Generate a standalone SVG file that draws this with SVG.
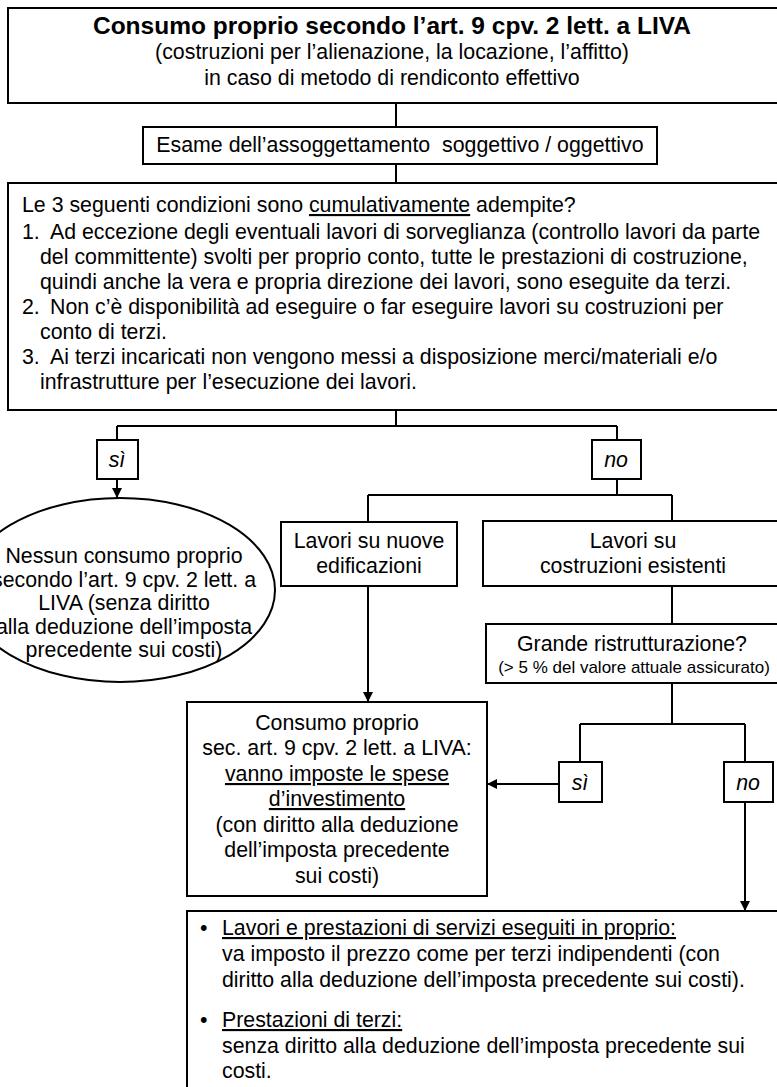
<svg xmlns="http://www.w3.org/2000/svg" width="777" height="1087" viewBox="0 0 777 1087">
<style>
.box{fill:#fff;stroke:#000;stroke-width:2}
.ln{fill:none;stroke:#000;stroke-width:2}
text{font-family:"Liberation Sans",Arial,sans-serif;font-size:21.33px;fill:#000}
.c{text-anchor:middle}
.it{font-style:italic}
.u{text-decoration:underline}
</style>
<defs>
<marker id="ah" markerUnits="userSpaceOnUse" markerWidth="10" markerHeight="10" refX="10" refY="5" orient="auto">
<path d="M0,0 L10,5 L0,10 z" fill="#000"/>
</marker>
</defs>
<rect width="777" height="1087" fill="#fff"/>
<g id="connectors">
<path class="ln" d="M396,103 V127"/>
<path class="ln" d="M396,164 V183"/>
<path class="ln" d="M396,410 V426 M117,426 H617 M117,426 V440 M617,426 V440"/>
<path class="ln" d="M117,479 V498" marker-end="url(#ah)"/>
<path class="ln" d="M617,479 V495 M368,495 H672 M368,495 V522 M672,495 V521"/>
<path class="ln" d="M368,586 V702" marker-end="url(#ah)"/>
<path class="ln" d="M672,586 V624"/>
<path class="ln" d="M672,683 V724 M580,724 H745 M580,724 V762 M745,724 V762"/>
<path class="ln" d="M559,784 H487" marker-end="url(#ah)"/>
<path class="ln" d="M745,802 V911" marker-end="url(#ah)"/>
</g>
<g id="n-title">
<rect class="box" x="8" y="8" width="790" height="95"/>
<text class="c" x="392" y="34" style="font-weight:bold;font-size:24.5px">Consumo proprio secondo l’art. 9 cpv. 2 lett. a LIVA</text>
<text class="c" x="392" y="59">(costruzioni per l’alienazione, la locazione, l’affitto)</text>
<text class="c" x="392" y="85">in caso di metodo di rendiconto effettivo</text>
</g>
<g id="n-esame">
<rect class="box" x="143" y="127" width="514" height="37"/>
<text class="c" x="400" y="152" xml:space="preserve">Esame dell’assoggettamento  soggettivo / oggettivo</text>
</g>
<g id="n-condizioni">
<rect class="box" x="8" y="183" width="790" height="227"/>
<text x="22" y="212">Le 3 seguenti condizioni sono <tspan class="u">cumulativamente</tspan> adempite?</text>
<text x="22" y="239">1.</text>
<text x="50" y="239">Ad eccezione degli eventuali lavori di sorveglianza (controllo lavori da parte</text>
<text x="40" y="264">del committente) svolti per proprio conto, tutte le prestazioni di costruzione,</text>
<text x="40" y="289">quindi anche la vera e propria direzione dei lavori, sono eseguite da terzi.</text>
<text x="22" y="314">2.</text>
<text x="50" y="314">Non c’è disponibilità ad eseguire o far eseguire lavori su costruzioni per</text>
<text x="40" y="339">conto di terzi.</text>
<text x="22" y="364">3.</text>
<text x="50" y="364">Ai terzi incaricati non vengono messi a disposizione merci/materiali e/o</text>
<text x="40" y="389">infrastrutture per l’esecuzione dei lavori.</text>
</g>
<g id="n-si1">
<rect class="box" x="97" y="440" width="41" height="39"/>
<text class="c it" x="117" y="467">sì</text>
</g>
<g id="n-no1">
<rect class="box" x="592" y="440" width="49" height="39"/>
<text class="c it" x="616" y="467">no</text>
</g>
<g id="n-nessun">
<ellipse class="box" cx="120" cy="590" rx="155" ry="92"/>
<text class="c" x="124" y="563">Nessun consumo proprio</text>
<text class="c" x="124" y="587">secondo l’art. 9 cpv. 2 lett. a</text>
<text class="c" x="124" y="610">LIVA (senza diritto</text>
<text class="c" x="124" y="634">alla deduzione dell’imposta</text>
<text class="c" x="124" y="657">precedente sui costi)</text>
</g>
<g id="n-nuove">
<rect class="box" x="281" y="522" width="176" height="64"/>
<text class="c" x="369" y="548">Lavori su nuove</text>
<text class="c" x="369" y="573">edificazioni</text>
</g>
<g id="n-esistenti">
<rect class="box" x="483" y="521" width="310" height="65"/>
<text class="c" x="633" y="548">Lavori su</text>
<text class="c" x="633" y="573">costruzioni esistenti</text>
</g>
<g id="n-grande">
<rect class="box" x="486" y="624" width="310" height="59"/>
<text class="c" x="632" y="651">Grande ristrutturazione?</text>
<text class="c" x="634" y="673" style="font-size:17px">(&gt; 5 % del valore attuale assicurato)</text>
</g>
<g id="n-consumo">
<rect class="box" x="187" y="702" width="300" height="194"/>
<text class="c" x="337" y="730">Consumo proprio</text>
<text class="c" x="337" y="755">sec. art. 9 cpv. 2 lett. a LIVA:</text>
<text class="c u" x="337" y="781">vanno imposte le spese</text>
<text class="c u" x="337" y="806">d’investimento</text>
<text class="c" x="337" y="832">(con diritto alla deduzione</text>
<text class="c" x="337" y="857">dell’imposta precedente</text>
<text class="c" x="337" y="883">sui costi)</text>
</g>
<g id="n-si2">
<rect class="box" x="559" y="762" width="43" height="40"/>
<text class="c it" x="580" y="790">sì</text>
</g>
<g id="n-no2">
<rect class="box" x="724" y="762" width="49" height="40"/>
<text class="c it" x="748" y="790">no</text>
</g>
<g id="n-risultato">
<rect class="box" x="187" y="911" width="610" height="200"/>
<text x="200" y="935">•</text>
<text x="222" y="935" class="u">Lavori e prestazioni di servizi eseguiti in proprio:</text>
<text x="222" y="961">va imposto il prezzo come per terzi indipendenti (con</text>
<text x="222" y="987">diritto alla deduzione dell’imposta precedente sui costi).</text>
<text x="200" y="1027">•</text>
<text x="222" y="1027" class="u">Prestazioni di terzi:</text>
<text x="222" y="1053">senza diritto alla deduzione dell’imposta precedente sui</text>
<text x="222" y="1078">costi.</text>
</g>
</svg>
